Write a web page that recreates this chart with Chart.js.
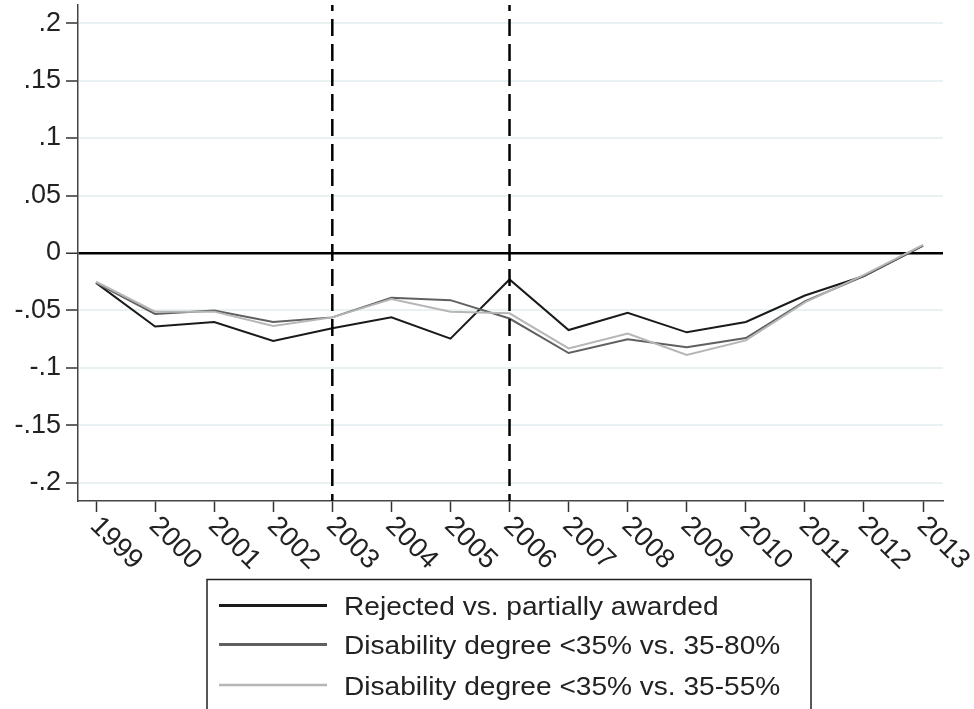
<!DOCTYPE html>
<html>
<head>
<meta charset="utf-8">
<script src="https://cdn.jsdelivr.net/npm/chart.js@4.4.0/dist/chart.umd.min.js"></script>
<style>
  html, body { margin: 0; padding: 0; background: #fff; }
  #wrap { width: 974px; height: 709px; }
</style>
</head>
<body>
<div id="wrap"><canvas id="c" width="974" height="709"></canvas></div>
<script>
// ---- data ----
const years = [1999, 2000, 2001, 2002, 2003, 2004, 2005, 2006, 2007, 2008, 2009, 2010, 2011, 2012, 2013];
const rejectedVsPartial = [-0.026, -0.064, -0.060, -0.0766, -0.0655, -0.056, -0.0745, -0.023, -0.067, -0.052, -0.069, -0.060, -0.037, -0.020, 0.0065];
const degree35vs80 = [-0.026, -0.053, -0.050, -0.060, -0.056, -0.039, -0.041, -0.057, -0.087, -0.075, -0.082, -0.074, -0.042, -0.020, 0.0065];
const degree35vs55 = [-0.025, -0.051, -0.051, -0.0635, -0.056, -0.040, -0.051, -0.0525, -0.083, -0.070, -0.0887, -0.076, -0.043, -0.019, 0.007];
const seriesLabels = ['Rejected vs. partially awarded', 'Disability degree <35% vs. 35-80%', 'Disability degree <35% vs. 35-55%'];
const yTicks = [-0.2, -0.15, -0.1, -0.05, 0, 0.05, 0.1, 0.15, 0.2];
const eventYears = [2003, 2006];

const X_MIN = 1998.695, X_MAX = 2013.338;
const Y_MIN = -0.2157, Y_MAX = 0.2157;
const FONT = '"Liberation Sans", Arial, sans-serif';
const colors = ['#1a1a1a', '#606060', '#b6b6b6'];

function pts(vals) { return years.map((yr, i) => ({ x: yr, y: vals[i] })); }
function fmt(v) {
  if (v === 0) return '0';
  return String(Number(v.toFixed(2))).replace('0.', '.');
}

const datasets = [
  { label: seriesLabels[0], data: pts(rejectedVsPartial), borderColor: colors[0], borderWidth: 2, order: 3 },
  { label: seriesLabels[1], data: pts(degree35vs80), borderColor: colors[1], borderWidth: 2, order: 2 },
  { label: seriesLabels[2], data: pts(degree35vs55), borderColor: colors[2], borderWidth: 2, order: 1 }
].map(d => Object.assign(d, { pointRadius: 0, tension: 0, fill: false }));

eventYears.forEach(ey => {
  datasets.push({
    label: '_event' + ey,
    data: [{ x: ey, y: Y_MAX }, { x: ey, y: Y_MIN }],
    borderColor: '#000', borderWidth: 2.5, borderDash: [17, 8], borderDashOffset: 11,
    pointRadius: 0, fill: false, order: 0
  });
});

const customDraw = {
  id: 'customDraw',
  afterDraw(chart) {
    const ctx = chart.ctx;
    const xs = chart.scales.x;
    // x tick labels, rotated 45deg clockwise, starting at the tick
    ctx.save();
    ctx.fillStyle = '#222';
    ctx.font = '27.5px ' + FONT;
    ctx.textAlign = 'left';
    ctx.textBaseline = 'alphabetic';
    years.forEach(yr => {
      const px = xs.getPixelForValue(yr);
      ctx.save();
      ctx.translate(px - 7, xs.top + 26);
      ctx.rotate(Math.PI / 4);
      ctx.fillText(String(yr), 0, 0);
      ctx.restore();
    });
    ctx.restore();

    // legend
    ctx.save();
    ctx.strokeStyle = '#222';
    ctx.lineWidth = 1.5;
    ctx.strokeRect(207, 579.5, 604, 140);
    const rowY = [605.5, 644.5, 685];
    const widths = [3, 3, 2.5];
    chart.data.datasets.slice(0, 3).forEach((ds, i) => {
      ctx.strokeStyle = ds.borderColor;
      ctx.lineWidth = widths[i];
      ctx.beginPath();
      ctx.moveTo(219, rowY[i]);
      ctx.lineTo(327, rowY[i]);
      ctx.stroke();
      ctx.save();
      ctx.fillStyle = '#222';
      ctx.font = '26px ' + FONT;
      ctx.textBaseline = 'alphabetic';
      ctx.translate(344, rowY[i] + 9.5);
      ctx.scale(1.08, 1);
      ctx.fillText(ds.label, 0, 0);
      ctx.restore();
    });
    ctx.restore();
  }
};

new Chart(document.getElementById('c'), {
  type: 'line',
  data: { datasets },
  options: {
    responsive: false,
    animation: false,
    layout: { padding: { top: 5, right: 31, left: 0, bottom: 0 } },
    plugins: { legend: { display: false }, tooltip: { enabled: false } },
    scales: {
      x: {
        type: 'linear', min: X_MIN, max: X_MAX,
        afterBuildTicks: s => { s.ticks = years.map(v => ({ value: v })); },
        afterFit: s => { s.height = 208; s.paddingLeft = 0; s.paddingRight = 0; },
        ticks: { display: false },
        grid: { drawOnChartArea: false, drawTicks: true, tickLength: 11, tickColor: '#333', tickWidth: 1.5 },
        border: { display: true, color: '#444', width: 1.5 }
      },
      y: {
        type: 'linear', min: Y_MIN, max: Y_MAX,
        afterBuildTicks: s => { s.ticks = yTicks.map(v => ({ value: v })); },
        afterFit: s => { s.width = 78; s.paddingTop = 0; s.paddingBottom = 0; },
        ticks: { color: '#222', padding: 5, font: { family: FONT, size: 27 }, callback: v => fmt(v) },
        grid: {
          color: c => (c.tick && c.tick.value === 0) ? '#000' : '#e9f1f3',
          lineWidth: c => (c.tick && c.tick.value === 0) ? 2.5 : 2,
          drawTicks: true, tickLength: 12, tickColor: '#333', tickWidth: 1.5
        },
        border: { display: true, color: '#444', width: 1.5 }
      }
    }
  },
  plugins: [customDraw]
});
</script>
</body>
</html>
